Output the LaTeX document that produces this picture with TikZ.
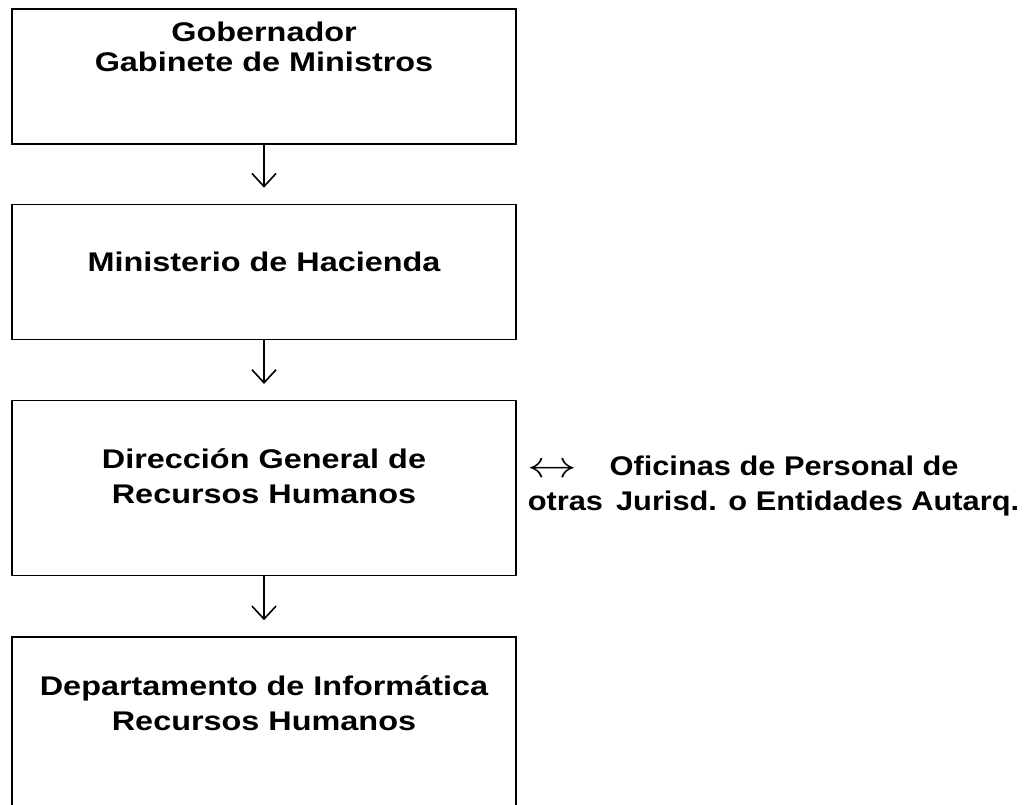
\documentclass[tikz,border=0pt]{standalone}
\usepackage{fontspec}
\newfontfamily\unitfont{Liberation Sans}[FakeStretch=1.2]
\newfontfamily\sidefont{Liberation Sans}[FakeStretch=1.14]
\usepackage{tikz}
\usetikzlibrary{arrows,arrows.meta,positioning}
\tikzstyle{unit} = [rectangle, draw=black, line width=1.3pt, minimum width=504pt, inner sep=0pt]
\tikzstyle{unittext} = [align=center, inner sep=0pt, anchor=base, font=\unitfont\bfseries\fontsize{27}{35}\selectfont]
\tikzstyle{sidetext} = [align=left, inner sep=0pt, anchor=base west, font=\sidefont\bfseries\fontsize{27}{35}\selectfont]
\tikzstyle{tedge} = [draw, line width=1.6pt, shorten >=16pt, -{Straight Barb[length=13pt, width=24pt]}]

\begin{document}
\begin{tikzpicture}[auto]

\useasboundingbox (0,0) rectangle (1031pt,-804pt);
\clip (0,0) rectangle (1031pt,-804pt);

% boxes =============================

\node[unit, minimum height=135pt] (gob) at (264pt,-76.5pt) {};
\node[unit, minimum height=135pt, below=59pt of gob] (hac) {};
\node[unit, minimum height=175pt, below=60pt of hac] (dgrh) {};
\node[unit, minimum height=240pt, below=60pt of dgrh] (dep) {};

% texts
\node[unittext] (gobtxt) at ([yshift=-63pt]gob.north) {Gobernador\\[-5pt]Gabinete de Ministros};
\node[unittext] (hactxt) at ([yshift=-68pt]hac.north) {Ministerio de Hacienda};
\node[unittext] (dgrhtxt) at ([yshift=-104pt]dgrh.north) {Dirección General de\\Recursos Humanos};
\node[unittext] (deptxt) at ([yshift=-94pt]dep.north) {Departamento de Informática\\Recursos Humanos};

% other offices
\node[sidetext] (ofic) at ([xshift=11pt, yshift=-22.5pt]dgrh.east) {\raisebox{-2pt}{\scalebox{2.0}[1.5]{$\leftrightarrow$}}\hspace{32pt}Oficinas de Personal de\\otras\hspace{13pt}Jurisd. o Entidades Autarq.};

%edges
\path[tedge] (gob) -- (hac);
\path[tedge] (hac) -- (dgrh);
\path[tedge] (dgrh) -- (dep);

\end{tikzpicture}
\end{document}
